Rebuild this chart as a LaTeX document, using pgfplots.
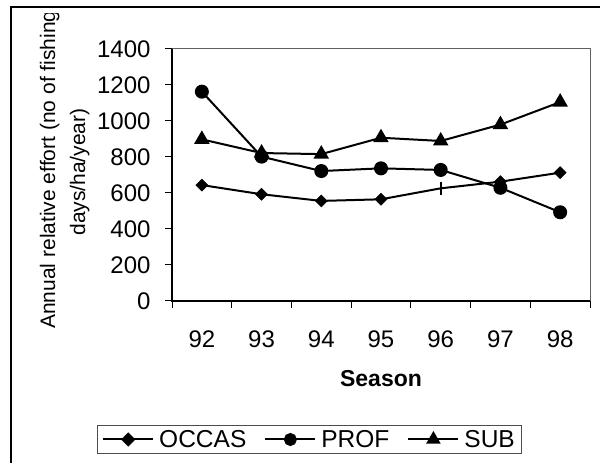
\documentclass[border=0pt]{standalone}
\usepackage{pgfplots}
\pgfplotsset{compat=1.18}
\usepackage{fontspec}
\setmainfont{Liberation Sans}
\begin{document}
\begin{tikzpicture}[x=1pt,y=1pt]
\useasboundingbox (0,0) rectangle (600,463);
\draw[line width=1.3pt] (11,-20) -- (11,456) -- (620,456);
\begin{axis}[
  at={(172pt,162pt)}, anchor=south west,
  scale only axis, width=418pt, height=252pt,
  xmin=-0.5, xmax=6.5, ymin=0, ymax=1400,
  xtick={0,...,6}, xticklabels={92,93,94,95,96,97,98},
  major x tick style={draw=none},
  minor xtick={-0.5,0.5,1.5,2.5,3.5,4.5,5.5,6.5},
  ytick={0,200,...,1400},
  tick align=outside, major tick length=7pt, minor tick length=7pt,
  tick style={black, line width=1pt},
  xtick pos=bottom, ytick pos=left,
  axis line style={draw=gray!75!black, line width=1pt},
  tick label style={font=\fontsize{24}{28}\selectfont},
  xticklabel style={yshift=-19pt},
  yticklabel style={xshift=-11pt},
  /pgf/number format/assume math mode=true,
  /pgf/number format/1000 sep={},
  clip=false,
  legend columns=3,
  legend style={at={(0.329,-0.5496)}, anchor=center, draw=gray!60!black, line width=1.3pt,
    inner xsep=5pt, inner ysep=3pt,
    font=\fontsize{24.5}{29}\selectfont, nodes={inner sep=2pt},
    /tikz/every odd column/.append style={column sep=3pt},
    /tikz/every even column/.append style={column sep=16pt}},
  legend image code/.code={\draw[mark repeat=2,mark phase=2] plot coordinates {(0pt,0pt) (25pt,0pt) (50pt,0pt)};},
]
\draw[black, line width=1.2pt] (rel axis cs:0,1) -- (rel axis cs:0,0) -- (rel axis cs:1,0);
% OCCAS
\addplot[black, line width=2pt, no markers, forget plot] coordinates {(0,644) (1,593) (2,556) (3,565) (4,626) (5,663) (6,713)};
\addplot[black, only marks, mark=square*, mark size=4.3, mark options={rotate=45}, forget plot] coordinates {(0,644) (1,593) (2,556) (3,565) (5,663) (6,713)};
\addplot[black, only marks, mark=|, mark size=6.5, mark options={line width=2pt}, forget plot] coordinates {(4,626)};
% PROF
\addplot[black, line width=2pt, mark=*, mark size=6, forget plot] coordinates {(0,1163) (1,802) (2,722) (3,737) (4,728) (5,629) (6,493)};
% SUB
\addplot[black, line width=2pt, mark=triangle*, mark size=7, forget plot] coordinates {(0,898) (1,822) (2,816) (3,907) (4,889) (5,980) (6,1105)};
\addlegendimage{black, line width=2pt, mark=square*, mark size=4, mark options={rotate=45}}
\addlegendimage{black, line width=2pt, mark=*, mark size=5.5}
\addlegendimage{black, line width=2pt, mark=triangle*, mark size=6.5}
\legend{OCCAS,PROF,SUB}
\end{axis}
\begin{scope}
\clip (0,0) rectangle (600,449);
\node[rotate=90, anchor=base west, inner sep=0pt, font=\fontsize{21}{25}\selectfont] at (55,134) {Annual relative effort (no of fishing};
\end{scope}
\node[rotate=90, anchor=base, inner sep=0pt, font=\fontsize{21}{25}\selectfont] at (85,291) {days/ha/year)};
\node[anchor=base, inner sep=0pt, font=\bfseries\fontsize{23}{27}\selectfont] at (381,76) {Season};
\end{tikzpicture}
\end{document}
